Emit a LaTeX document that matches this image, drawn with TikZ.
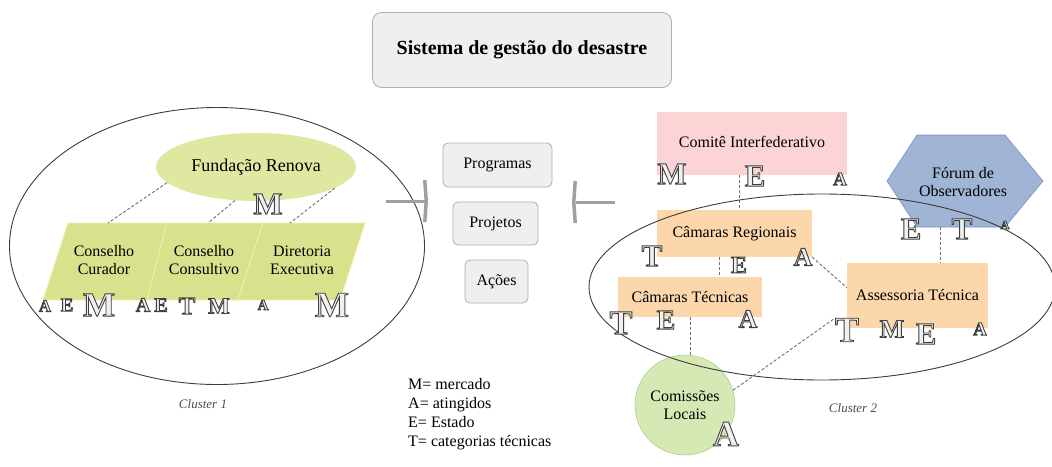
\documentclass[tikz,border=0pt]{standalone}
\usepackage{fontspec}
\setmainfont{Liberation Serif}
\usetikzlibrary{shapes.geometric,arrows.meta}
\definecolor{boxfill}{RGB}{239,239,239}
\definecolor{boxline}{RGB}{175,175,175}
\definecolor{frfill}{RGB}{224,231,160}
\definecolor{parfill}{RGB}{218,225,140}
\definecolor{parline}{RGB}{240,240,170}
\definecolor{pinkfill}{RGB}{252,212,214}
\definecolor{orfill}{RGB}{252,215,172}
\definecolor{bluefill}{RGB}{160,180,214}
\definecolor{blueline}{RGB}{120,145,190}
\definecolor{greenfill}{RGB}{214,232,180}
\definecolor{greenline}{RGB}{170,200,140}
\definecolor{conncol}{RGB}{110,110,110}
\definecolor{arrcol}{RGB}{160,160,160}
\definecolor{olfill}{RGB}{240,240,240}
\definecolor{clline}{RGB}{60,60,60}
% outlined letter: white fill, dark stroke (PDF text render mode 2)
\newcommand{\olt}[2]{\fontsize{#1}{#1}\selectfont\bfseries\textcolor{olfill}{\special{pdf:literal direct q 0.25 0.25 0.25 RG 0.9 w 2 Tr}#2\special{pdf:literal direct Q}}}
\begin{document}
\begin{tikzpicture}[x=1pt,y=-1pt,
  every node/.style={inner sep=0pt},
  txt/.style={font=\fontsize{16}{18}\selectfont, align=center},
  rbox/.style={draw=boxline, fill=boxfill, rounded corners=5pt, line width=0.8pt, txt},
  rectbox/.style={txt},
  conn/.style={draw=conncol, dashed, dash pattern=on 3pt off 2pt, line width=0.9pt},
  bigarrow/.style={draw=arrcol, line width=3pt, -{Straight Barb[length=1.5pt,width=42pt,line width=3.5pt]}},
  letter/.style={inner sep=0pt},
  cluster/.style={ellipse, draw=clline, line width=0.9pt, inner sep=0pt},
  clabel/.style={font=\itshape\fontsize{13}{15}\selectfont, text=black!70}
]
\useasboundingbox (0,0) rectangle (1052,466);

% title
\node[rbox, rounded corners=9pt, minimum width=299pt, minimum height=75pt] (title) at (522,50)
  {\fontsize{20}{23}\selectfont\bfseries Sistema de gestão do desastre};

% ---------- Cluster 1 ----------
\node[ellipse, fill=frfill, minimum width=200pt, minimum height=68pt, txt, font=\fontsize{18}{20}\selectfont] (fr) at (256,167) {Fundação Renova};
\fill[parfill, draw=parline, line width=0.8pt] (68,223) -- (167,223) -- (147,300) -- (43,300) -- cycle;
\fill[parfill, draw=parline, line width=0.8pt] (167,223) -- (263,223) -- (238,300) -- (147,300) -- cycle;
\fill[parfill, draw=parline, line width=0.8pt] (263,223) -- (365,223) -- (340,300) -- (238,300) -- cycle;
\node[txt] (cc1) at (104,260) {Conselho\\Curador};
\node[txt] (cc2) at (204,260) {Conselho\\Consultivo};
\node[txt] (de) at (302,260) {Diretoria\\Executiva};
\coordinate (cc1t) at (108,223);
\coordinate (cc2t) at (208,223);
\coordinate (det) at (290,223);
\draw[conn] (fr.190) -- (cc1t);
\draw[conn] (fr.238) -- (cc2t);
\draw[conn] (fr.345) -- (det);
\node[cluster, minimum width=415pt, minimum height=277pt] (cl1) at (217,246) {};
\node[clabel] (cl1lab) at (203,404) {Cluster 1};

\node[letter] (m0) at (268,204) {\olt{31}{M}};
\node[letter] (a1) at (45,306) {\olt{17}{A}};
\node[letter] (e1) at (67,305) {\olt{19}{E}};
\node[letter] (m1) at (99,305) {\olt{34}{M}};
\node[letter] (a2) at (143,305) {\olt{20}{A}};
\node[letter] (e2) at (161,305) {\olt{20}{E}};
\node[letter] (t2) at (187,306) {\olt{25}{T}};
\node[letter] (m2) at (219,306) {\olt{23}{M}};
\node[letter] (a3) at (263,305) {\olt{15}{A}};
\node[letter] (m3) at (332,305) {\olt{36}{M}};

% ---------- middle ----------
\node[rbox, minimum width=109pt, minimum height=44pt] (prog) at (497.5,165) {Programas};
\node[rbox, minimum width=85pt, minimum height=43pt] (proj) at (495.5,223.5) {Projetos};
\node[rbox, minimum width=63pt, minimum height=43pt] (acoes) at (496.5,281.5) {Ações};
\coordinate (aLs) at (386,201);
\coordinate (aLe) at (428,201);
\coordinate (aRs) at (615,202);
\coordinate (aRe) at (572,202);
\draw[bigarrow] (aLs) -- (aLe);
\draw[bigarrow] (aRs) -- (aRe);
\node[anchor=north west, align=left, font=\fontsize{16}{19}\selectfont] (legend) at (408,378)
  {M= mercado\\A= atingidos\\E= Estado\\T= categorias técnicas};

% ---------- Cluster 2 ----------
\node[rectbox, fill=pinkfill, minimum width=190pt, minimum height=63pt] (ci) at (752,143.5) {Comitê Interfederativo\vphantom{g}};
\fill[bluefill, draw=blueline, line width=0.6pt] (887,181) -- (917,135) -- (1005,135) -- (1043,181) -- (1005,227) -- (917,227) -- cycle;
\node[txt] (fo) at (963,182) {Fórum de\\Observadores};
\coordinate (fob) at (940,227);
\node[rectbox, fill=orfill, minimum width=155pt, minimum height=47pt] (cr) at (734.5,233.5) {Câmaras Regionais};
\node[rectbox, fill=orfill, minimum width=144pt, minimum height=40pt] (ct) at (690,297) {Câmaras Técnicas};
\node[rectbox, fill=orfill, minimum width=141pt, minimum height=65pt] (at) at (917.5,295.5) {Assessoria Técnica};
\node[circle, fill=greenfill, draw=greenline, line width=0.5pt, minimum size=100pt, txt] (cl) at (685,405) {Comissões\\Locais};

\draw[conn] ([xshift=-13pt]ci.south) -- ([xshift=4.5pt]cr.north);
\draw[conn] ([xshift=-15.5pt]cr.south) -- ([xshift=29pt]ct.north);
\draw[conn] (cr.south east) -- ([yshift=8pt]at.west);
\draw[conn] (fob) -- (fob |- at.north);
\draw[conn] (ct.south) -- (ct.south |- cl.north);
\draw[conn] (cl.17) -- ([xshift=-12pt,yshift=10pt]at.south west);

\node[cluster, minimum width=466pt, minimum height=186pt] (cl2) at (822,287) {};
\node[clabel] (cl2lab) at (853,408) {Cluster 2};

\node[letter] (m4) at (672,174) {\olt{31}{M}};
\node[letter] (e4) at (755,176) {\olt{31}{E}};
\node[letter] (a4) at (840,179) {\olt{19}{A}};
\node[letter] (e5) at (911,229) {\olt{31}{E}};
\node[letter] (t5) at (962,229) {\olt{31}{T}};
\node[letter] (a5) at (1005,225) {\olt{12}{A}};
\node[letter] (t6) at (652,256) {\olt{31}{T}};
\node[letter] (e6) at (739,265) {\olt{24}{E}};
\node[letter] (a6) at (803,257) {\olt{26}{A}};
\node[letter] (t7) at (621,323) {\olt{34}{T}};
\node[letter] (e7) at (666,320) {\olt{28}{E}};
\node[letter] (a7) at (748,319) {\olt{26}{A}};
\node[letter] (t8) at (847,330) {\olt{36}{T}};
\node[letter] (m8) at (892,329) {\olt{26}{M}};
\node[letter] (e8) at (926,334) {\olt{31}{E}};
\node[letter] (a8) at (980,329) {\olt{19}{A}};
\node[letter] (a9) at (726,434) {\olt{36}{A}};
\end{tikzpicture}
\end{document}
